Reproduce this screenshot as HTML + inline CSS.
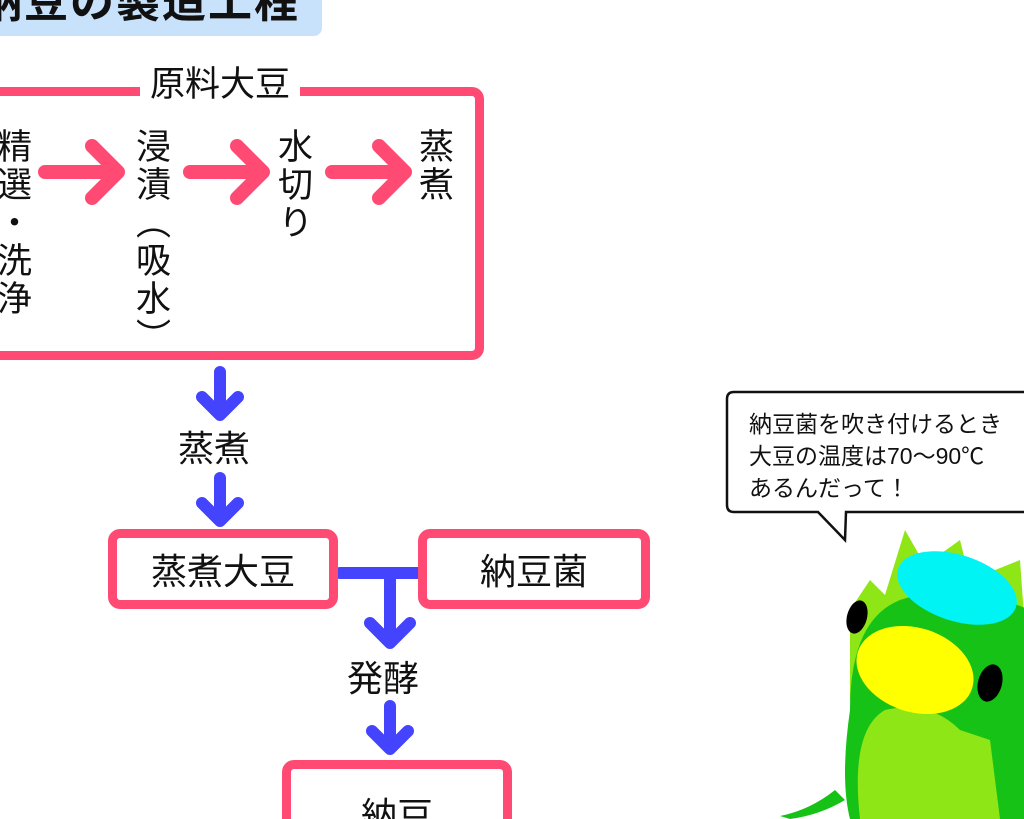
<!DOCTYPE html>
<html><head><meta charset="utf-8"><style>
html,body{margin:0;padding:0;width:1024px;height:819px;overflow:hidden;background:#fff;position:relative;font-family:"Liberation Sans","Noto Sans CJK JP",sans-serif;color:#111}
.a{position:absolute}
.t{position:absolute;font-size:35px;line-height:40px;writing-mode:vertical-rl;letter-spacing:3px;font-family:"Noto Sans CJK JP",sans-serif}
.box{position:absolute;border:9px solid #ff4a73;border-radius:12px;background:#fff;box-sizing:border-box;font-size:36px;display:flex;align-items:center;justify-content:center}
</style></head><body>
<div class="a" style="left:-20px;top:-20px;width:342px;height:56px;background:#c9e2fb;border-radius:8px"></div>
<div class="a" style="left:-22px;top:-22px;font-size:44px;font-weight:bold;line-height:50px;letter-spacing:2px">納豆の製造工程</div>

<div class="a" style="left:-20px;top:87px;width:504px;height:273px;border:9px solid #ff4a73;border-radius:12px;box-sizing:border-box"></div>
<div class="a" style="left:140px;top:64px;width:160px;background:#fff;font-size:35px;line-height:42px;text-align:center">原料大豆</div>

<div class="t" style="left:-6px;top:128px">精選・洗浄</div>
<div class="t" style="left:133px;top:128px">浸漬（吸水）</div>
<div class="t" style="left:275px;top:128px">水切り</div>
<div class="t" style="left:416px;top:128px">蒸煮</div>

<svg class="a" style="left:0;top:0" width="1024" height="819">
<g stroke="#ff4a73" stroke-width="14" stroke-linecap="round" stroke-linejoin="round" fill="none">
<path d="M45 172H115M92 146L118 172L92 198"/>
<path d="M190 172H260M237 146L263 172L237 198"/>
<path d="M332 172H402M379 146L405 172L379 198"/>
</g>
<g stroke="#4444ff" stroke-width="12" stroke-linecap="round" stroke-linejoin="round" fill="none">
<path d="M220 372V412M202 397L220 415L238 397"/>
<path d="M220 478V518M202 503L220 521L238 503"/>
<path d="M340 573H420M390 573V640M370 623L390 643L410 623"/>
<path d="M390 706V746M372 731L390 749L408 731"/>
</g>
</svg>
<div class="a" style="left:178px;top:428px;font-size:36px;line-height:42px">蒸煮</div>
<div class="a" style="left:347px;top:658px;font-size:36px;line-height:42px">発酵</div>
<div class="box" style="left:108px;top:529px;width:230px;height:80px">蒸煮大豆</div>
<div class="box" style="left:418px;top:529px;width:232px;height:80px">納豆菌</div>
<div class="box" style="left:282px;top:760px;width:230px;height:59px;border-bottom:none;border-radius:12px 12px 0 0;align-items:flex-start;padding-top:18px;overflow:hidden">納豆</div>

<svg class="a" style="left:700px;top:380px" width="324" height="439">
<path d="M40 12H330V132H146L145 160L118 132H34Q27 132 27 125V19Q27 12 34 12Z" fill="#fff" stroke="#111" stroke-width="2.5"/>
<path d="M150 230L170 200L185 215L205 150L225 185L260 160L270 200L320 180L330 320H150Z" fill="#8fe616"/>
<path d="M150 439Q140 400 150 330Q150 240 200 220Q260 200 330 230V439Z" fill="#17c217"/>
<path d="M160 439Q150 350 185 330Q230 320 260 350L290 360L300 439Z" fill="#8fe616"/>
<ellipse cx="257" cy="208" rx="62" ry="33" transform="rotate(18 257 208)" fill="#00f4f4"/>
<ellipse cx="215" cy="290" rx="60" ry="42" transform="rotate(18 215 290)" fill="#ffff00"/>
<ellipse cx="157" cy="237" rx="10" ry="17" transform="rotate(15 157 237)" fill="#000"/>
<ellipse cx="290" cy="303" rx="12" ry="19" transform="rotate(15 290 303)" fill="#000"/>
<path d="M80 436Q110 430 135 410L145 420Q120 435 90 439Z" fill="#17c217"/>
</svg>
<div class="a" style="left:749px;top:408px;font-size:23px;line-height:32px;white-space:nowrap">納豆菌を吹き付けるとき<br>大豆の温度は70〜90℃<br>あるんだって！</div>
</body></html>
